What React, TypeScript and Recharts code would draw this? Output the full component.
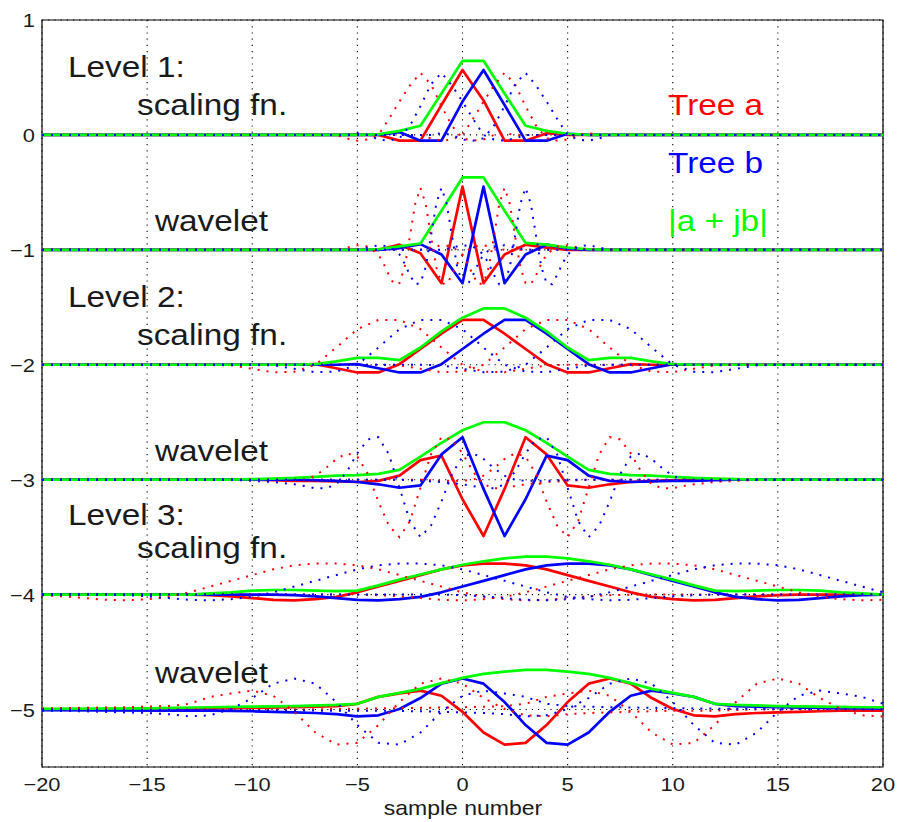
import React from 'react';
import { LineChart, Line, XAxis, YAxis, CartesianGrid, ReferenceArea } from 'recharts';

type P = [number, number][];

// ---------- axis ticks ----------
const X_TICKS = [-20, -15, -10, -5, 0, 5, 10, 15, 20];
const Y_TICKS = [-5, -4, -3, -2, -1, 0, 1];

// ---------- panel baselines ----------
const OFFSETS = [0, -1, -2, -3, -4, -5];

// ---------- Level 1 scaling fn ----------
const L1S_A: P = [[-20,0],[-4,0],[-3,-0.05],[-2,-0.05],[-1,0.26],[0,0.565],[1,0.3],[2,-0.05],[3,-0.05],[4,0.015],[5,0],[20,0]];
const L1S_B: P = [[-20,0],[-4,0],[-3,0.025],[-2,-0.05],[-1,-0.05],[0,0.29],[1,0.565],[2,0.26],[3,-0.05],[4,-0.05],[5,0.01],[6,0],[20,0]];
const L1S_M: P = [[-20,0],[-5,0],[-4,0.005],[-3,0.035],[-2,0.08],[-1,0.36],[0,0.645],[1,0.645],[2,0.36],[3,0.08],[4,0.035],[5,0.01],[6,0],[20,0]];
const L1S_RL: P = [[-20,0],[-6,0],[-5.5,-0.03],[-5,-0.05],[-4.5,-0.04],[-4,0],[-3.5,0.14],[-3,0.29],[-2.5,0.43],[-2,0.54],[-1.5,0.44],[-1,0.25],[-0.5,0.08],[0,-0.03],[0.5,-0.05],[1,-0.04],[1.5,0],[2,0.015],[2.5,0],[20,0]];
const L1S_RR: P = [[-20,0],[-2,0],[-1.5,-0.03],[-1,-0.05],[-0.5,-0.04],[0,0],[0.5,0.14],[1,0.29],[1.5,0.43],[2,0.54],[2.5,0.44],[3,0.25],[3.5,0.08],[4,-0.03],[4.5,-0.05],[5,-0.04],[5.5,0],[6,0.015],[6.5,0],[20,0]];
const L1S_BL: P = [[-20,0],[-5.5,0],[-5,0.015],[-4.5,0],[-4,-0.04],[-3.5,-0.05],[-3,-0.03],[-2.5,0.08],[-2,0.25],[-1.5,0.44],[-1,0.54],[-0.5,0.43],[0,0.29],[0.5,0.14],[1,0],[1.5,-0.04],[2,-0.05],[2.5,-0.03],[3,0],[20,0]];
const L1S_BR: P = [[-20,0],[-1.5,0],[-1,0.015],[-0.5,0],[0,-0.04],[0.5,-0.05],[1,-0.03],[1.5,0.08],[2,0.25],[2.5,0.44],[3,0.54],[3.5,0.43],[4,0.29],[4.5,0.14],[5,0],[5.5,-0.04],[6,-0.05],[6.5,-0.03],[7,0],[20,0]];

// ---------- Level 1 wavelet ----------
const L1W_A: P = [[-20,0],[-4,0],[-3,0.045],[-2,-0.03],[-1,-0.29],[0,0.55],[1,-0.29],[2,-0.04],[3,0.045],[4,0.02],[5,0],[20,0]];
const L1W_B: P = [[-20,0],[-4,0],[-3,0.015],[-2,0.05],[-1,-0.04],[0,-0.29],[1,0.55],[2,-0.29],[3,-0.04],[4,0.045],[5,0.01],[6,0],[20,0]];
const L1W_M: P = [[-20,0],[-5,0],[-4,0.005],[-3,0.03],[-2,0.055],[-1,0.34],[0,0.63],[1,0.63],[2,0.34],[3,0.06],[4,0.045],[5,0.02],[6,0.005],[7,0],[20,0]];
const L1W_RL: P = [[-20,0],[-6,0],[-5.5,0.02],[-5,0.04],[-4.5,0.03],[-4,-0.04],[-3.75,-0.12],[-3.5,-0.22],[-3.25,-0.3],[-3,-0.29],[-2.75,-0.15],[-2.5,0.12],[-2.25,0.4],[-2,0.54],[-1.75,0.4],[-1.5,0.12],[-1.25,-0.15],[-1,-0.29],[-0.75,-0.3],[-0.5,-0.22],[-0.25,-0.12],[0,-0.04],[0.5,0.03],[1,0.04],[1.5,0.02],[2,0],[20,0]];
const L1W_RR: P = [[-20,0],[-2,0],[-1.5,0.02],[-1,0.04],[-0.5,0.03],[0,-0.04],[0.25,-0.12],[0.5,-0.22],[0.75,-0.3],[1,-0.29],[1.25,-0.15],[1.5,0.12],[1.75,0.4],[2,0.54],[2.25,0.4],[2.5,0.12],[2.75,-0.15],[3,-0.29],[3.25,-0.3],[3.5,-0.22],[3.75,-0.12],[4,-0.04],[4.5,0.03],[5,0.04],[5.5,0.02],[6,0],[20,0]];
const L1W_BL: P = [[-20,0],[-5,0],[-4.5,0.02],[-4,0.04],[-3.5,0.03],[-3,-0.04],[-2.75,-0.12],[-2.5,-0.22],[-2.25,-0.3],[-2,-0.29],[-1.75,-0.15],[-1.5,0.12],[-1.25,0.4],[-1,0.54],[-0.75,0.4],[-0.5,0.12],[-0.25,-0.15],[0,-0.29],[0.25,-0.3],[0.5,-0.22],[0.75,-0.12],[1,-0.04],[1.5,0.03],[2,0.04],[2.5,0.02],[3,0],[20,0]];
const L1W_BR: P = [[-20,0],[-1,0],[-0.5,0.02],[0,0.04],[0.5,0.03],[1,-0.04],[1.25,-0.12],[1.5,-0.22],[1.75,-0.3],[2,-0.29],[2.25,-0.15],[2.5,0.12],[2.75,0.4],[3,0.54],[3.25,0.4],[3.5,0.12],[3.75,-0.15],[4,-0.29],[4.25,-0.3],[4.5,-0.22],[4.75,-0.12],[5,-0.04],[5.5,0.03],[6,0.04],[6.5,0.02],[7,0],[20,0]];

// ---------- Level 2 scaling fn ----------
const L2S_A: P = [[-20,0],[-8,0],[-7,0.005],[-6,-0.03],[-5,-0.067],[-4,-0.067],[-3,0.005],[-2,0.137],[-1,0.27],[0,0.39],[1,0.39],[2,0.27],[3,0.137],[4,0.005],[5,-0.067],[6,-0.067],[7,-0.03],[8,0.005],[9,0],[20,0]];
const L2S_B: P = [[-20,0],[-6,0],[-5,0.005],[-4,-0.03],[-3,-0.067],[-2,-0.067],[-1,0.005],[0,0.137],[1,0.27],[2,0.39],[3,0.39],[4,0.27],[5,0.137],[6,0.005],[7,-0.067],[8,-0.067],[9,-0.03],[10,0.005],[11,0],[20,0]];
const L2S_M: P = [[-20,0],[-8,0],[-7,0.006],[-6,0.03],[-5,0.06],[-4,0.06],[-3,0.04],[-2,0.15],[-1,0.29],[0,0.41],[1,0.49],[2,0.49],[3,0.41],[4,0.29],[5,0.15],[6,0.04],[7,0.06],[8,0.06],[9,0.03],[10,0.006],[11,0],[20,0]];
const L2S_RL: P = [[-20,0],[-12,0],[-11,-0.005],[-10,-0.035],[-9,-0.065],[-8,-0.06],[-7,0],[-6,0.15],[-5,0.31],[-4,0.39],[-3,0.39],[-2,0.31],[-1,0.15],[0,0],[1,-0.06],[2,-0.065],[3,-0.035],[4,-0.005],[5,0],[20,0]];
const L2S_RR: P = [[-20,0],[-4,0],[-3,-0.005],[-2,-0.035],[-1,-0.065],[0,-0.06],[1,0],[2,0.15],[3,0.31],[4,0.39],[5,0.39],[6,0.31],[7,0.15],[8,0],[9,-0.06],[10,-0.065],[11,-0.035],[12,-0.005],[13,0],[20,0]];
const L2S_BL: P = [[-20,0],[-10,0],[-9,-0.005],[-8,-0.035],[-7,-0.065],[-6,-0.06],[-5,0],[-4,0.15],[-3,0.31],[-2,0.39],[-1,0.39],[0,0.31],[1,0.15],[2,0],[3,-0.06],[4,-0.065],[5,-0.035],[6,-0.005],[7,0],[20,0]];
const L2S_BR: P = [[-20,0],[-2,0],[-1,-0.005],[0,-0.035],[1,-0.065],[2,-0.06],[3,0],[4,0.15],[5,0.31],[6,0.39],[7,0.39],[8,0.31],[9,0.15],[10,0],[11,-0.06],[12,-0.065],[13,-0.035],[14,-0.005],[15,0],[20,0]];

// ---------- Level 2 wavelet ----------
const L2W_A: P = [[-20,0],[-10,0],[-9,-0.005],[-8,-0.01],[-7,-0.01],[-6,-0.015],[-5,-0.02],[-4,-0.01],[-3,0.035],[-2,0.17],[-1,0.21],[0,-0.17],[1,-0.49],[2,-0.08],[3,0.37],[4,0.22],[5,-0.05],[6,-0.07],[7,-0.04],[8,-0.02],[9,-0.01],[10,-0.005],[11,0],[20,0]];
const L2W_B: P = [[-20,0],[-8,0],[-7,-0.005],[-6,-0.01],[-5,-0.02],[-4,-0.04],[-3,-0.07],[-2,-0.05],[-1,0.22],[0,0.37],[1,-0.08],[2,-0.49],[3,-0.17],[4,0.21],[5,0.17],[6,0.035],[7,-0.01],[8,-0.02],[9,-0.015],[10,-0.01],[11,-0.01],[12,-0.005],[13,0],[20,0]];
const L2W_M: P = [[-20,0],[-11,0],[-10,0.005],[-9,0.01],[-8,0.015],[-7,0.025],[-6,0.035],[-5,0.04],[-4,0.05],[-3,0.085],[-2,0.2],[-1,0.32],[0,0.43],[1,0.5],[2,0.5],[3,0.43],[4,0.32],[5,0.2],[6,0.085],[7,0.05],[8,0.04],[9,0.035],[10,0.025],[11,0.015],[12,0.01],[13,0.005],[14,0],[20,0]];
const L2W_RL: P = [[-20,0],[-10,0],[-9,-0.01],[-8,-0.01],[-7.5,0],[-7,0.035],[-6.5,0.1],[-6,0.18],[-5.5,0.23],[-5,0.2],[-4.5,0.05],[-4,-0.19],[-3.5,-0.4],[-3,-0.5],[-2.5,-0.36],[-2,-0.07],[-1.5,0.22],[-1,0.37],[-0.5,0.35],[0,0.23],[0.5,0.07],[1,-0.04],[1.5,-0.075],[2,-0.075],[2.5,-0.055],[3,-0.04],[4,-0.02],[5,-0.01],[6,0],[20,0]];
const L2W_RR: P = [[-20,0],[-2,0],[-1,-0.01],[0,-0.01],[0.5,0],[1,0.035],[1.5,0.1],[2,0.18],[2.5,0.23],[3,0.2],[3.5,0.05],[4,-0.19],[4.5,-0.4],[5,-0.5],[5.5,-0.36],[6,-0.07],[6.5,0.22],[7,0.37],[7.5,0.35],[8,0.23],[8.5,0.07],[9,-0.04],[9.5,-0.075],[10,-0.075],[10.5,-0.055],[11,-0.04],[12,-0.02],[13,-0.01],[14,0],[20,0]];
const L2W_BL: P = [[-20,0],[-11,0],[-10,-0.01],[-9,-0.02],[-8,-0.04],[-7.5,-0.055],[-7,-0.075],[-6.5,-0.075],[-6,-0.04],[-5.5,0.07],[-5,0.23],[-4.5,0.35],[-4,0.37],[-3.5,0.22],[-3,-0.07],[-2.5,-0.36],[-2,-0.5],[-1.5,-0.4],[-1,-0.19],[-0.5,0.05],[0,0.2],[0.5,0.23],[1,0.18],[1.5,0.1],[2,0.035],[2.5,0],[3,-0.01],[4,-0.01],[5,0],[20,0]];
const L2W_BR: P = [[-20,0],[-3,0],[-2,-0.01],[-1,-0.02],[0,-0.04],[0.5,-0.055],[1,-0.075],[1.5,-0.075],[2,-0.04],[2.5,0.07],[3,0.23],[3.5,0.35],[4,0.37],[4.5,0.22],[5,-0.07],[5.5,-0.36],[6,-0.5],[6.5,-0.4],[7,-0.19],[7.5,0.05],[8,0.2],[8.5,0.23],[9,0.18],[9.5,0.1],[10,0.035],[10.5,0],[11,-0.01],[12,-0.01],[13,0],[20,0]];

// ---------- Level 3 scaling fn ----------
const L3S_A: P = [[-20,0],[-13,0],[-12,-0.005],[-11,-0.015],[-10,-0.03],[-9,-0.045],[-8,-0.05],[-7,-0.04],[-6,-0.02],[-5,0.02],[-4,0.07],[-3,0.12],[-2,0.17],[-1,0.22],[0,0.255],[1,0.27],[2,0.27],[3,0.255],[4,0.22],[5,0.17],[6,0.12],[7,0.07],[8,0.02],[9,-0.02],[10,-0.04],[11,-0.05],[12,-0.045],[13,-0.03],[14,-0.015],[15,-0.005],[16,0],[20,0]];
const L3S_B: P = [[-20,0],[-9,0],[-8,-0.005],[-7,-0.015],[-6,-0.03],[-5,-0.045],[-4,-0.05],[-3,-0.04],[-2,-0.02],[-1,0.02],[0,0.07],[1,0.12],[2,0.17],[3,0.22],[4,0.255],[5,0.27],[6,0.27],[7,0.255],[8,0.22],[9,0.17],[10,0.12],[11,0.07],[12,0.02],[13,-0.02],[14,-0.04],[15,-0.05],[16,-0.045],[17,-0.03],[18,-0.015],[19,-0.005],[20,0]];
const L3S_M: P = [[-20,0],[-13,0],[-12,0.01],[-11,0.02],[-10,0.035],[-9,0.04],[-8,0.04],[-7,0.035],[-6,0.03],[-5,0.035],[-4,0.08],[-3,0.13],[-2,0.175],[-1,0.22],[0,0.26],[1,0.29],[2,0.315],[3,0.33],[4,0.33],[5,0.315],[6,0.29],[7,0.26],[8,0.22],[9,0.175],[10,0.13],[11,0.08],[12,0.035],[13,0.03],[14,0.035],[15,0.04],[16,0.04],[17,0.035],[18,0.02],[19,0.01],[20,0]];
const L3S_RL: P = [[-20,-0.005],[-19,-0.015],[-18,-0.03],[-17,-0.045],[-16,-0.05],[-15,-0.04],[-14,-0.02],[-13,0.02],[-12,0.07],[-11,0.12],[-10,0.17],[-9,0.22],[-8,0.255],[-7,0.27],[-6,0.27],[-5,0.255],[-4,0.22],[-3,0.17],[-2,0.12],[-1,0.07],[0,0.02],[1,-0.02],[2,-0.04],[3,-0.05],[4,-0.045],[5,-0.03],[6,-0.015],[7,-0.005],[8,0],[20,0]];
const L3S_RR: P = [[-20,0],[-5,0],[-4,-0.005],[-3,-0.015],[-2,-0.03],[-1,-0.045],[0,-0.05],[1,-0.04],[2,-0.02],[3,0.02],[4,0.07],[5,0.12],[6,0.17],[7,0.22],[8,0.255],[9,0.27],[10,0.27],[11,0.255],[12,0.22],[13,0.17],[14,0.12],[15,0.07],[16,0.02],[17,-0.02],[18,-0.04],[19,-0.05],[20,-0.045]];
const L3S_BL: P = [[-20,0],[-17,0],[-16,-0.005],[-15,-0.015],[-14,-0.03],[-13,-0.045],[-12,-0.05],[-11,-0.04],[-10,-0.02],[-9,0.02],[-8,0.07],[-7,0.12],[-6,0.17],[-5,0.22],[-4,0.255],[-3,0.27],[-2,0.27],[-1,0.255],[0,0.22],[1,0.17],[2,0.12],[3,0.07],[4,0.02],[5,-0.02],[6,-0.04],[7,-0.05],[8,-0.045],[9,-0.03],[10,-0.015],[11,-0.005],[12,0],[20,0]];
const L3S_BR: P = [[-20,0],[-1,0],[0,-0.005],[1,-0.015],[2,-0.03],[3,-0.045],[4,-0.05],[5,-0.04],[6,-0.02],[7,0.02],[8,0.07],[9,0.12],[10,0.17],[11,0.22],[12,0.255],[13,0.27],[14,0.27],[15,0.255],[16,0.22],[17,0.17],[18,0.12],[19,0.07],[20,0.02]];

// ---------- Level 3 wavelet ----------
const L3W_A: P = [[-20,0],[-16,0],[-14,0.005],[-12,0.01],[-10,0.015],[-8,0.02],[-7,0.025],[-6,0.03],[-5,0.05],[-4,0.11],[-3,0.14],[-2,0.165],[-1,0.12],[0,-0.02],[1,-0.2],[2,-0.305],[3,-0.29],[4,-0.135],[5,0.065],[6,0.225],[7,0.27],[8,0.225],[9,0.1],[10,0.005],[11,-0.05],[12,-0.06],[13,-0.04],[14,-0.03],[15,-0.025],[16,-0.02],[17,-0.015],[18,-0.01],[20,-0.01]];
const L3W_B: P = [[-20,-0.005],[-14,-0.01],[-12,-0.01],[-10,-0.015],[-9,-0.02],[-8,-0.025],[-7,-0.03],[-6,-0.04],[-5,-0.06],[-4,-0.05],[-3,0.005],[-2,0.1],[-1,0.225],[0,0.27],[1,0.225],[2,0.065],[3,-0.135],[4,-0.29],[5,-0.305],[6,-0.2],[7,-0.02],[8,0.12],[9,0.165],[10,0.14],[11,0.11],[12,0.05],[13,0.03],[14,0.025],[15,0.02],[17,0.015],[19,0.01],[20,0.008]];
const L3W_M: P = [[-20,0.005],[-15,0.01],[-12,0.02],[-10,0.025],[-8,0.03],[-6,0.04],[-5,0.05],[-4,0.11],[-3,0.145],[-2,0.18],[-1,0.23],[0,0.275],[1,0.31],[2,0.33],[3,0.345],[4,0.345],[5,0.33],[6,0.31],[7,0.275],[8,0.23],[9,0.18],[10,0.145],[11,0.11],[12,0.05],[13,0.04],[15,0.03],[17,0.025],[19,0.02],[20,0.018]];
const L3W_RL: P = [[-20,0.01],[-18,0.015],[-16,0.02],[-15,0.025],[-14,0.03],[-13,0.05],[-12,0.11],[-11,0.14],[-10,0.165],[-9,0.12],[-8,-0.02],[-7,-0.2],[-6,-0.305],[-5,-0.29],[-4,-0.135],[-3,0.065],[-2,0.225],[-1,0.27],[0,0.225],[1,0.1],[2,0.005],[3,-0.05],[4,-0.06],[5,-0.04],[6,-0.03],[7,-0.025],[8,-0.02],[9,-0.015],[10,-0.01],[12,-0.01],[14,0],[20,0]];
const L3W_RR: P = [[-20,0],[-8,0],[-6,0.005],[-4,0.01],[-2,0.015],[0,0.02],[1,0.025],[2,0.03],[3,0.05],[4,0.11],[5,0.14],[6,0.165],[7,0.12],[8,-0.02],[9,-0.2],[10,-0.305],[11,-0.29],[12,-0.135],[13,0.065],[14,0.225],[15,0.27],[16,0.225],[17,0.1],[18,0.005],[19,-0.05],[20,-0.06]];
const L3W_BL: P = [[-20,-0.01],[-18,-0.015],[-17,-0.02],[-16,-0.025],[-15,-0.03],[-14,-0.04],[-13,-0.06],[-12,-0.05],[-11,0.005],[-10,0.1],[-9,0.225],[-8,0.27],[-7,0.225],[-6,0.065],[-5,-0.135],[-4,-0.29],[-3,-0.305],[-2,-0.2],[-1,-0.02],[0,0.12],[1,0.165],[2,0.14],[3,0.11],[4,0.05],[5,0.03],[6,0.025],[7,0.02],[9,0.015],[11,0.01],[12,0.008],[20,0]];
const L3W_BR: P = [[-20,0],[-6,-0.01],[-4,-0.01],[-2,-0.015],[-1,-0.02],[0,-0.025],[1,-0.03],[2,-0.04],[3,-0.06],[4,-0.05],[5,0.005],[6,0.1],[7,0.225],[8,0.27],[9,0.225],[10,0.065],[11,-0.135],[12,-0.29],[13,-0.305],[14,-0.2],[15,-0.02],[16,0.12],[17,0.165],[18,0.14],[19,0.11],[20,0.05]];

// ---------- text labels ----------
const LEVEL_LABELS = ['Level 1:', 'Level 2:', 'Level 3:'];
const KIND_LABELS = ['scaling fn.', 'wavelet'];
const LEGEND_LABELS = ['Tree a', 'Tree b', '|a + jb|'];
const X_LABEL = 'sample number';

const RED = '#ff0000';
const BLUE = '#0000ff';
const GREEN = '#00ff00';
const FONT = '"Liberation Sans", Arial, Helvetica, sans-serif';
const SX = 1.15;

const PANELS = [
  { a: L1S_A, b: L1S_B, m: L1S_M, rl: L1S_RL, rr: L1S_RR, bl: L1S_BL, br: L1S_BR },
  { a: L1W_A, b: L1W_B, m: L1W_M, rl: L1W_RL, rr: L1W_RR, bl: L1W_BL, br: L1W_BR },
  { a: L2S_A, b: L2S_B, m: L2S_M, rl: L2S_RL, rr: L2S_RR, bl: L2S_BL, br: L2S_BR },
  { a: L2W_A, b: L2W_B, m: L2W_M, rl: L2W_RL, rr: L2W_RR, bl: L2W_BL, br: L2W_BR },
  { a: L3S_A, b: L3S_B, m: L3S_M, rl: L3S_RL, rr: L3S_RR, bl: L3S_BL, br: L3S_BR },
  { a: L3W_A, b: L3W_B, m: L3W_M, rl: L3W_RL, rr: L3W_RR, bl: L3W_BL, br: L3W_BR },
];

const toPts = (arr: P, off: number) => arr.map(([x, y]) => ({ x, y: y + off }));

const fmt = (v: number) => (v < 0 ? '\u2212' + Math.abs(v) : String(v));

const XTick = (props: any) => {
  const { x, payload } = props;
  const y = 791;
  return (
    <text x={x} y={y} textAnchor="middle" fontSize={19} fontFamily={FONT} fill="#1a1a1a"
      transform={`matrix(${SX},0,0,1,${-(SX - 1) * x},0)`}>{fmt(payload.value)}</text>
  );
};

const YTick = (props: any) => {
  const { y, payload } = props;
  const x = 35;
  return (
    <text x={x} y={y + 7} textAnchor="end" fontSize={19} fontFamily={FONT} fill="#1a1a1a"
      transform={`matrix(${SX},0,0,1,${-(SX - 1) * x},0)`}>{fmt(payload.value)}</text>
  );
};

const Label = ({ x, y, text, color = '#1a1a1a', size = 29 }: any) => (
  <text x={x} y={y} fontSize={size} fontFamily={FONT} fill={color}
    transform={`matrix(${SX},0,0,1,${-(SX - 1) * x},0)`}>{text}</text>
);

export default function App() {
  const solids: any[] = [];
  const dotted: any[] = [];
  PANELS.forEach((p, i) => {
    const off = OFFSETS[i];
    solids.push({ k: `a${i}`, d: toPts(p.a, off), c: RED });
    solids.push({ k: `b${i}`, d: toPts(p.b, off), c: BLUE });
    solids.push({ k: `m${i}`, d: toPts(p.m, off), c: GREEN });
    dotted.push({ k: `rl${i}`, d: toPts(p.rl, off), c: RED });
    dotted.push({ k: `rr${i}`, d: toPts(p.rr, off), c: RED });
    dotted.push({ k: `bl${i}`, d: toPts(p.bl, off), c: BLUE });
    dotted.push({ k: `br${i}`, d: toPts(p.br, off), c: BLUE });
  });

  return (
    <div style={{ position: 'absolute', left: 0, top: 0, width: 899, height: 822, background: '#fff' }}>
      <LineChart width={899} height={822} margin={{ top: 20, right: 16, bottom: 0, left: 0 }}>
        <CartesianGrid stroke="#000" strokeDasharray="1.2 5" strokeWidth={1.1} />
        <XAxis type="number" dataKey="x" domain={[-20, 20]} ticks={X_TICKS} allowDataOverflow
          axisLine={false} tickLine={false} height={55} tick={(p: any) => <XTick {...p} />} interval={0} />
        <YAxis type="number" domain={[-5.5, 1]} ticks={Y_TICKS} allowDataOverflow
          axisLine={false} tickLine={false} width={42} tick={(p: any) => <YTick {...p} />} interval={0} />
        {solids.map((s) => (
          <Line key={s.k} data={s.d} dataKey="y" type="linear" stroke={s.c} strokeWidth={2.7}
            strokeLinejoin="round" dot={false} activeDot={false} isAnimationActive={false} />
        ))}
        {dotted.map((s) => (
          <Line key={s.k} data={s.d} dataKey="y" type="linear" stroke={s.c} strokeWidth={2}
            strokeDasharray="2 7" dot={false} activeDot={false} isAnimationActive={false} />
        ))}
        <ReferenceArea x1={-20} x2={20} y1={-5.5} y2={1} fill="none" fillOpacity={0}
          stroke="#000" strokeWidth={1.2} ifOverflow="visible" />
      </LineChart>
      <svg width={899} height={822} style={{ position: 'absolute', left: 0, top: 0, pointerEvents: 'none' }}>
        <Label x={68} y={77} text={LEVEL_LABELS[0]} />
        <Label x={137} y={115} text={KIND_LABELS[0]} />
        <Label x={155} y={231} text={KIND_LABELS[1]} />
        <Label x={68} y={307} text={LEVEL_LABELS[1]} />
        <Label x={137} y={345} text={KIND_LABELS[0]} />
        <Label x={155} y={461} text={KIND_LABELS[1]} />
        <Label x={68} y={525} text={LEVEL_LABELS[2]} />
        <Label x={137} y={558} text={KIND_LABELS[0]} />
        <Label x={155} y={683} text={KIND_LABELS[1]} />
        <Label x={668} y={115} text={LEGEND_LABELS[0]} color={RED} />
        <Label x={668} y={173} text={LEGEND_LABELS[1]} color={BLUE} />
        <Label x={668} y={231} text={LEGEND_LABELS[2]} color={GREEN} />
        <text x={463} y={815} textAnchor="middle" fontSize={20} fontFamily={FONT} fill="#1a1a1a"
          transform={`matrix(${SX},0,0,1,${-(SX - 1) * 463},0)`}>{X_LABEL}</text>
      </svg>
    </div>
  );
}
